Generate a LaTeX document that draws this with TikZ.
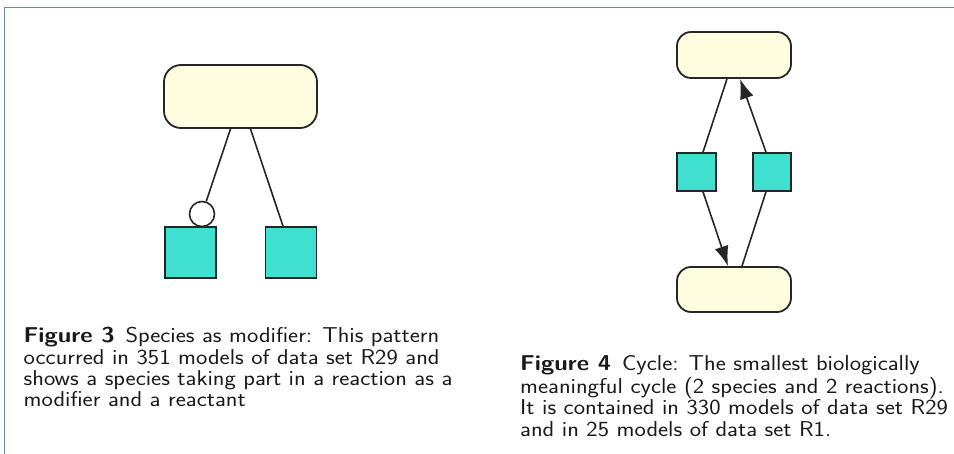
\documentclass[tikz,border=0pt]{standalone}
\usetikzlibrary{arrows.meta}
\definecolor{species}{HTML}{FFFDE0}
\definecolor{reaction}{HTML}{40E0D0}
\definecolor{frame}{HTML}{6C88A8}
\newcommand{\capblock}[1]{\scalebox{1.12}[1]{\begin{tabular}[b]{@{}l@{}}#1\end{tabular}}}
\tikzset{
  spec/.style={draw=black!85, line width=1.8pt, fill=species, rounded corners=#1, inner sep=0pt},
  reac/.style={draw=black!85, line width=1.6pt, fill=reaction, inner sep=0pt},
  edge/.style={draw=black!85, line width=1.6pt},
  arr/.style={edge, -{Latex[length=20pt,width=14pt]}},
  modc/.style={circle, draw=black!85, line width=1.6pt, fill=white, inner sep=0pt, minimum size=25pt},
  captext/.style={anchor=base west, inner sep=0pt, font=\sffamily\fontsize{21.5}{21.3}\selectfont, text=black!90}
}
\begin{document}
\begin{tikzpicture}[x=1pt,y=-1pt]
\useasboundingbox (0,0) rectangle (954,454);
\draw[frame, line width=1pt] (954,8) -- (4,8) -- (4,454);
% Figure 3
\node[spec=17pt, minimum width=153pt, minimum height=63pt] (s1) at (240.5,96.5) {};
\node[reac, minimum size=51pt] (r1) at (190.5,252.5) {};
\node[reac, minimum size=51pt] (r2) at (291,252.5) {};
\node[modc] (m1) at (202,214) {};
\draw[edge] ([xshift=-10pt]s1.south) -- (m1);
\draw[edge] ([xshift=10pt]s1.south) -- ([xshift=-8pt]r2.north);
\node[captext] (c3) at (23.5,407) {\capblock{\textbf{Figure 3}\hspace{0.45em}Species as modifier: This pattern\\occurred in 351 models of data set R29 and\\shows a species taking part in a reaction as a\\modifier and a reactant}};
% Figure 4
\node[spec=14pt, minimum width=114pt, minimum height=46pt] (t) at (734,55) {};
\node[spec=14pt, minimum width=114pt, minimum height=45pt] (b) at (734,289.5) {};
\node[reac, minimum width=39pt, minimum height=38pt] (ra) at (696.5,172) {};
\node[reac, minimum width=38pt, minimum height=38pt] (rb) at (772,172) {};
\draw[edge] ([xshift=-7pt]t.south) -- ([xshift=6.5pt]ra.north);
\draw[arr] ([xshift=6.5pt]ra.south) -- ([xshift=-6pt]b.north);
\draw[edge] ([xshift=-6pt]rb.south) -- ([xshift=8pt]b.north);
\draw[arr] ([xshift=-6pt]rb.north) -- ([xshift=6pt]t.south);
\node[captext] (c4) at (520,436) {\capblock{\textbf{Figure 4}\hspace{0.45em}Cycle: The smallest biologically\\meaningful cycle (2 species and 2 reactions).\\It is contained in 330 models of data set R29\\and in 25 models of data set R1.}};
\end{tikzpicture}
\end{document}
